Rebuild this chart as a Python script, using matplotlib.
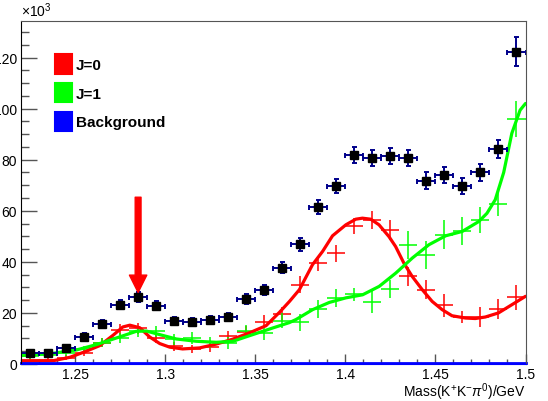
import numpy as np
import matplotlib
matplotlib.use("Agg")
import matplotlib.pyplot as plt
from matplotlib.patches import Patch
from matplotlib.ticker import MultipleLocator

plt.rcParams['font.family'] = ['Liberation Sans', 'DejaVu Sans']
plt.rcParams['mathtext.fontset'] = 'custom'
plt.rcParams['mathtext.rm'] = 'Liberation Sans'
plt.rcParams['mathtext.it'] = 'Liberation Sans:italic'

# bin centres (GeV), counts in units of 10^3
mass = np.round(np.arange(1.225, 1.5, 0.01), 3)
data_y = [4.4, 4.4, 6.3, 10.6, 15.8, 23.2, 26.1, 22.9, 16.9, 16.6, 17.3, 18.4, 25.5, 29.1,
          37.7, 46.8, 61.5, 69.7, 81.7, 80.5, 81.4, 80.5, 71.8, 74.0, 69.7, 75.1, 84.1, 122.2]
data_err = [1.0, 1.0, 1.2, 1.4, 1.6, 1.8, 1.9, 1.8, 1.6, 1.6, 1.6, 1.6, 1.9, 2.0,
            2.2, 2.4, 2.6, 2.9, 3.1, 3.1, 3.1, 3.1, 3.3, 3.3, 3.3, 3.4, 3.6, 5.7]
j0_y = [1.5, 1.5, 2.4, 4.5, 8.3, 13.5, 14.0, 10.2, 7.0, 5.9, 6.5, 10.9, 12.5, 16.5,
        19.5, 31.0, 39.5, 43.4, 54.1, 56.4, 52.5, 34.3, 29.1, 23.0, 18.4, 18.4, 21.6, 26.1]
j0_err = [0.8, 0.8, 1.0, 1.3, 1.8, 2.1, 2.2, 2.0, 1.8, 1.7, 1.8, 2.1, 2.3, 2.6,
          2.9, 3.3, 2.9, 3.3, 3.1, 3.6, 3.9, 3.6, 3.6, 4.6, 2.3, 3.9, 4.0, 4.9]
j1_y = [3.0, 3.7, 4.5, 5.7, 8.3, 10.2, 12.8, 12.8, 9.6, 10.2, 8.5, 8.3, 12.8, 12.2,
        17.0, 16.3, 21.6, 25.9, 27.3, 24.3, 29.4, 46.7, 42.8, 50.6, 51.9, 56.4, 62.7, 96.0]
j1_err = [1.0, 1.0, 1.2, 1.4, 1.8, 2.0, 2.2, 2.2, 2.1, 2.2, 2.2, 2.3, 2.6, 2.7,
          3.0, 3.3, 3.5, 3.6, 2.6, 4.2, 3.6, 5.5, 5.5, 5.7, 5.5, 5.0, 4.6, 7.0]

# fitted curves
j0_fit_x = [1.220, 1.238, 1.247, 1.2555, 1.2637, 1.271, 1.2765, 1.2804, 1.2859, 1.2914,
            1.297, 1.3025, 1.3097, 1.3191, 1.3284, 1.3374, 1.3468, 1.356, 1.3634,
            1.3690, 1.3745, 1.3818, 1.3874, 1.3929, 1.4003, 1.4058, 1.4095, 1.4141,
            1.4187, 1.4242, 1.4279, 1.4325, 1.4371, 1.4427, 1.4482, 1.4537, 1.4592,
            1.4666, 1.4721, 1.4777, 1.4850, 1.4924, 1.5]
j0_fit_y = [1.1, 1.3, 2.6, 4.8, 7.2, 11.2, 14.5, 15.2, 14.2, 10.6,
            8.0, 6.6, 5.9, 6.3, 7.8, 9.7, 12.2, 15.0, 20.2,
            24.5, 29.1, 38.9, 44.1, 50.2, 54.5, 56.7, 57.1, 56.7,
            54.5, 49.9, 46.0, 39.5, 34.3, 29.1, 24.5, 21.3, 18.9,
            18.0, 17.8, 18.4, 20.0, 23.2, 26.5]
j1_fit_x = [1.220, 1.2379, 1.2508, 1.2619, 1.2730, 1.2840, 1.2896, 1.2970, 1.3062,
            1.3173, 1.3284, 1.3376, 1.3486, 1.3597, 1.3689, 1.3726, 1.3819, 1.3911,
            1.4003, 1.4096, 1.4188, 1.4280, 1.4372, 1.4464, 1.4557, 1.4649, 1.4741,
            1.4786, 1.4832, 1.4879, 1.4924, 1.4970, 1.5]
j1_fit_y = [3.3, 4.2, 5.5, 7.6, 10.2, 12.8, 12.9, 11.5, 9.8,
            8.9, 8.5, 8.9, 11.5, 14.1, 16.2, 17.4, 21.3, 24.1,
            25.9, 27.1, 30.4, 35.6, 41.5, 46.7, 50.2, 51.9, 55.8,
            59.0, 64.3, 75.0, 90.3, 99.4, 102.0]
bkg_x = [1.22, 1.5]
bkg_y = [0.2, 0.2]

legend_labels = ['J=0', 'J=1', 'Background']
legend_colors = ['#ff0000', '#00ff00', '#0000ff']

fig = plt.figure(figsize=(5.48, 4.02), dpi=100)
ax = fig.add_axes([21/548, 1 - 365/402, 504.5/548, 343/402])

ax.errorbar(mass, j0_y, xerr=0.005, yerr=j0_err, fmt='none', ecolor='#ff0000', elinewidth=1.1)
ax.errorbar(mass, j1_y, xerr=0.005, yerr=j1_err, fmt='none', ecolor='#00ff00', elinewidth=1.1)
ax.plot(j0_fit_x, j0_fit_y, color='#ff0000', lw=2.3, solid_capstyle='round')
ax.plot(j1_fit_x, j1_fit_y, color='#00ff00', lw=2.3, solid_capstyle='round')
ax.plot(bkg_x, bkg_y, color='#0000ff', lw=2.0, clip_on=False)
ax.errorbar(mass, data_y, xerr=0.005, yerr=data_err, fmt='s', color='black', ms=5.5,
            ecolor='#00008b', elinewidth=1.4, capsize=1.8, capthick=1.4)

# arrow marking the low-mass peak
ax.annotate('', xy=(1.285, 28.0), xytext=(1.285, 65.3),
            arrowprops=dict(arrowstyle='simple,head_length=1.25,head_width=1.25,tail_width=0.42',
                            mutation_scale=10, color='#ff0000', shrinkA=0, shrinkB=0))

ax.set_xlim(1.22, 1.5)
ax.set_ylim(0, 134.3)
ax.xaxis.set_major_locator(MultipleLocator(0.05))
ax.xaxis.set_minor_locator(MultipleLocator(0.01))
ax.yaxis.set_major_locator(MultipleLocator(20))
ax.yaxis.set_minor_locator(MultipleLocator(5))
ax.xaxis.set_major_formatter(plt.FuncFormatter(lambda v, p: '%g' % round(v, 3)))
ax.tick_params(axis='both', which='both', direction='in', top=False, right=False,
               labelsize=10, color='#555555')
ax.tick_params(axis='x', which='major', length=7.2, width=1, pad=2)
ax.tick_params(axis='x', which='minor', length=3.6, width=1)
ax.tick_params(axis='y', which='major', length=11.5, width=1, pad=3)
ax.tick_params(axis='y', which='minor', length=5.8, width=1)
for s in ['top', 'right']:
    ax.spines[s].set_color('#555555')
ax.spines['bottom'].set_color('#0000ff')

ax.set_xlabel(r'Mass(K$^{+}$K$^{-}$$\pi^{0}$)/GeV', fontsize=10, ha='right')
ax.xaxis.set_label_coords(1.0, -0.048)
ax.text(0, 1.005, r'$\times$10$^{3}$', transform=ax.transAxes, ha='left', va='bottom', fontsize=10)

handles = [Patch(facecolor=c, edgecolor=c, joinstyle='round', linewidth=1.5) for c in legend_colors]
leg = ax.legend(handles, legend_labels, loc='upper left', bbox_to_anchor=(0.067, 0.904),
                frameon=False, borderaxespad=0, borderpad=0, handlelength=1.15, handleheight=1.6,
                handletextpad=0.25, labelspacing=0.6, prop={'weight': 'bold', 'size': 11})

fig.savefig('out.png', dpi=100)
